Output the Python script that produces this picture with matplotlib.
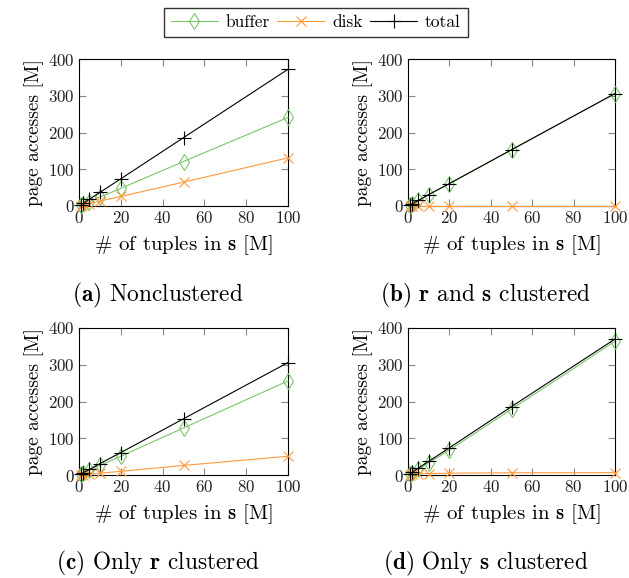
import numpy as np
import matplotlib
matplotlib.use("Agg")
import matplotlib.pyplot as plt

plt.rcParams['font.family'] = ['cmr10']
plt.rcParams['mathtext.fontset'] = 'cm'
plt.rcParams['axes.formatter.use_mathtext'] = True

## data
x = [1, 2, 5, 10, 20, 50, 100]

a_buffer = [2.4, 4.8, 12, 24, 48, 121, 241]
a_disk = [1.3, 2.6, 6.6, 13, 26, 65, 131]
a_total = [3.7, 7.4, 18.6, 37, 74, 186, 372]

b_buffer = [3.1, 6.1, 15, 31, 61, 153, 306]
b_disk = [0, 0, 0, 0, 0, 0, 0]
b_total = [3.1, 6.1, 15, 31, 61, 153, 306]

c_buffer = [2.6, 5.1, 13, 26, 51, 128, 256]
c_disk = [0.5, 1.0, 2.6, 5, 10, 26, 51]
c_total = [3.1, 6.1, 15, 31, 61, 153, 306]

d_buffer = [2.5, 5, 15, 33, 68, 179, 364]
d_disk = [1.2, 2.4, 3.5, 4, 5, 6, 6.5]
d_total = [3.7, 7.4, 19, 37, 74, 186, 370]

captions = [r"$\mathbf{(a)}$ Nonclustered",
            r"$\mathbf{(b)}$ $\mathbf{r}$ and $\mathbf{s}$ clustered",
            r"$\mathbf{(c)}$ Only $\mathbf{r}$ clustered",
            r"$\mathbf{(d)}$ Only $\mathbf{s}$ clustered"]

panels = [(a_buffer, a_disk, a_total), (b_buffer, b_disk, b_total),
          (c_buffer, c_disk, c_total), (d_buffer, d_disk, d_total)]

green = '#7dc46c'
orange = '#ff9a3c'

W, H = 629, 578
fig = plt.figure(figsize=(W / 100, H / 100), dpi=100)

# axes boxes in pixels: left, top, right, bottom
boxes = [(79, 59, 288, 206), (408, 59, 615, 206),
         (79, 328, 288, 475), (408, 328, 615, 475)]
cap_y = [295, 563]

for i, (bx, (buf, dsk, tot)) in enumerate(zip(boxes, panels)):
    l, t, r, b = bx
    ax = fig.add_axes([l / W, 1 - b / H, (r - l) / W, (b - t) / H])
    ax.plot(x, buf, color=green, lw=0.8, marker='d', ms=8, mfc='none', mew=0.8,
            label='buffer', clip_on=False, zorder=3)
    ax.plot(x, dsk, color=orange, lw=0.8, marker='x', ms=7, mew=0.8,
            label='disk', clip_on=False, zorder=3)
    ax.plot(x, tot, color='black', lw=0.8, marker='+', ms=10, mew=0.8,
            label='total', clip_on=False, zorder=4)
    ax.set_xlim(0, 100)
    ax.set_ylim(0, 400)
    ax.set_xticks([0, 20, 40, 60, 80, 100])
    ax.set_yticks([0, 100, 200, 300, 400])
    ax.tick_params(direction='in', top=True, right=True, length=5, width=0.8,
                   color='#888888', labelsize=12.2, labelcolor='#222222', pad=3)
    for s in ax.spines.values():
        s.set_linewidth(0.8)
    ax.set_xlabel(r"# of tuples in $\mathbf{s}$ [M]", fontsize=15, labelpad=5)
    ax.set_ylabel("page accesses [M]", fontsize=14, labelpad=3)
    cx = ((l + r) / 2 - 26) / W
    fig.text(cx, 1 - cap_y[i // 2] / H, captions[i], fontsize=16.8,
             ha='center', va='center')
    if i == 0:
        handles, labels = ax.get_legend_handles_labels()

fig.legend(handles, labels, loc='upper center', bbox_to_anchor=(0.502, 1 - 8 / H),
           borderaxespad=0, ncol=3, frameon=True, fancybox=False, edgecolor='black',
           fontsize=12.5, handlelength=2.7, columnspacing=0.45, handletextpad=0.45,
           borderpad=0.4)

fig.savefig("out.png", dpi=100)
